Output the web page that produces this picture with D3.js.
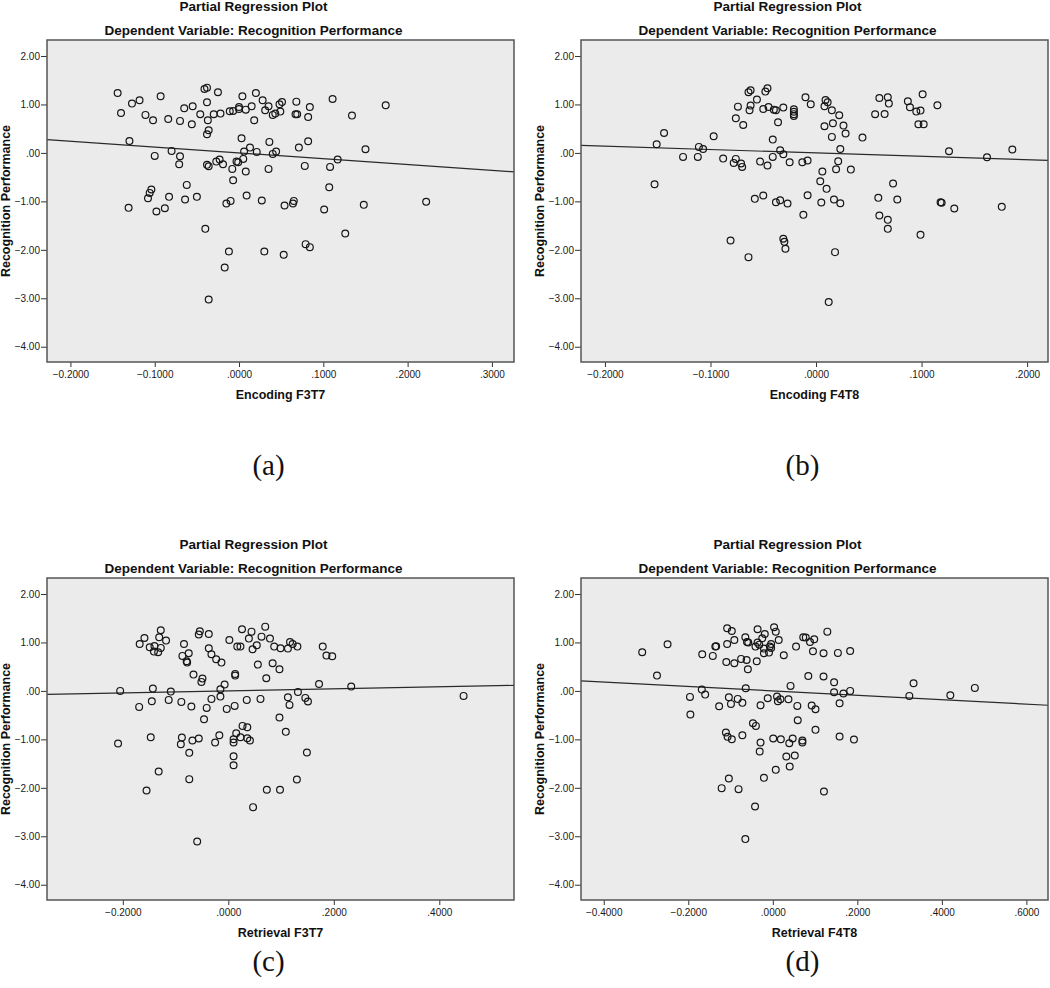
<!DOCTYPE html>
<html>
<head>
<meta charset="utf-8">
<script src="https://cdn.jsdelivr.net/npm/d3@7"></script>
<style>
body { margin: 0; background: #fff; }
svg text { font-family: Arial, "Liberation Sans", sans-serif; }
</style>
</head>
<body>
<svg id="chart" width="1050" height="988"></svg>
<script>
// partial residuals, [x, y]
var encF3T7 = [
  [-0.144,1.237],[-0.140,0.825],[-0.127,1.017],[-0.118,1.086],[-0.093,1.168],[-0.111,0.784],[-0.102,0.674],[-0.084,0.701],
  [-0.070,0.660],[-0.065,0.921],[-0.055,0.962],[-0.056,0.591],[-0.046,0.797],[-0.041,1.320],[-0.038,1.347],[-0.038,1.045],
  [-0.037,0.674],[-0.036,0.467],[-0.038,0.385],[-0.030,0.797],[-0.025,1.251],[-0.022,0.811],[-0.011,0.859],[-0.007,0.866],
  [0.000,0.948],[0.000,0.907],[0.004,1.168],[0.008,0.893],[0.015,0.962],[0.020,1.237],[0.018,0.674],[-0.130,0.247],
  [-0.100,-0.062],[-0.080,0.041],[-0.070,-0.069],[-0.071,-0.234],[-0.038,-0.247],[-0.036,-0.275],[-0.027,-0.179],[-0.023,-0.137],
  [-0.019,-0.234],[-0.008,-0.330],[-0.003,-0.179],[-0.001,-0.192],[0.005,-0.124],[0.003,0.302],[0.006,0.027],[0.013,0.110],
  [0.021,0.021],[0.008,-0.385],[-0.007,-0.564],[-0.062,-0.660],[-0.104,-0.756],[-0.106,-0.825],[-0.108,-0.935],[-0.083,-0.907],
  [-0.064,-0.962],[-0.050,-0.907],[-0.131,-1.134],[-0.098,-1.210],[-0.088,-1.141],[-0.015,-1.045],[-0.010,-0.990],[0.009,-0.880],
  [-0.040,-1.567],[-0.012,-2.034],[-0.017,-2.364],[-0.036,-3.024],
  [0.028,1.086],[0.031,0.880],[0.035,0.962],[0.040,0.784],[0.043,0.811],[0.049,0.852],[0.048,1.003],[0.051,1.052],
  [0.068,1.058],[0.067,0.797],[0.069,0.797],[0.082,0.742],[0.084,0.948],[0.111,1.113],[0.134,0.770],[0.174,0.983],
  [0.036,0.227],[0.040,-0.021],[0.044,0.027],[0.035,-0.330],[0.071,0.110],[0.082,0.241],[0.078,-0.268],[0.108,-0.289],
  [0.117,-0.137],[0.150,0.076],[0.107,-0.708],[0.027,-0.983],[0.054,-1.086],[0.064,-1.045],[0.065,-0.990],[0.101,-1.168],
  [0.148,-1.072],[0.222,-1.010],[0.126,-1.663],[0.030,-2.034],[0.053,-2.103],[0.079,-1.883],[0.084,-1.945]
];

var encF4T8 = [
  [-0.151,0.179],[-0.144,0.412],[-0.153,-0.646],[-0.126,-0.082],[-0.112,-0.082],[-0.111,0.124],[-0.107,0.082],[-0.097,0.344],
  [-0.088,-0.117],[-0.076,-0.124],[-0.078,-0.206],[-0.071,-0.220],[-0.070,-0.289],[-0.081,-1.808],[-0.064,-2.151],[-0.074,0.955],
  [-0.076,0.715],[-0.069,0.577],[-0.064,1.251],[-0.062,1.292],[-0.062,0.976],[-0.063,0.880],[-0.056,1.100],[-0.053,-0.179],
  [-0.050,0.907],[-0.048,1.265],[-0.046,1.333],[-0.045,0.948],[-0.040,0.893],[-0.038,0.880],[-0.031,0.935],[-0.036,0.632],
  [-0.041,0.275],[-0.034,0.055],[-0.031,-0.027],[-0.041,-0.082],[-0.046,-0.261],[-0.058,-0.948],[-0.050,-0.880],[-0.038,-1.017],
  [-0.034,-0.976],[-0.027,-1.045],[-0.031,-1.773],[-0.030,-1.835],[-0.029,-1.979],[-0.025,-0.192],
  [-0.010,1.148],[-0.005,1.003],[-0.021,0.900],[-0.021,0.850],[-0.021,0.800],[-0.021,0.760],[0.009,1.093],[0.011,1.045],
  [0.008,0.962],[0.015,0.880],[0.022,0.777],[0.008,0.550],[0.016,0.612],[0.026,0.564],[0.028,0.399],[0.015,0.330],
  [0.044,0.316],[0.023,0.082],[-0.013,-0.192],[-0.008,-0.158],[0.021,-0.172],[0.019,-0.337],[0.033,-0.344],[0.006,-0.385],
  [0.004,-0.584],[0.010,-0.742],[-0.008,-0.873],[0.005,-1.024],[0.017,-0.962],[0.023,-1.038],[-0.012,-1.278],[0.018,-2.048],
  [0.012,-3.079],[0.060,1.134],[0.068,1.148],[0.069,1.017],[0.056,0.797],[0.065,0.804],[0.087,1.065],[0.089,0.942],
  [0.095,0.852],[0.099,0.873],[0.101,1.210],[0.115,0.983],[0.097,0.591],[0.102,0.591],[0.126,0.034],[0.162,-0.089],
  [0.186,0.069],[0.073,-0.632],[0.059,-0.928],[0.077,-0.962],[0.060,-1.292],[0.068,-1.381],[0.068,-1.567],[0.099,-1.691],
  [0.118,-1.017],[0.119,-1.031],[0.131,-1.148],[0.176,-1.113]
];

var retF3T7 = [
  [-0.205,0.000],[-0.209,-1.086],[-0.169,-0.330],[-0.168,0.969],[-0.159,1.093],[-0.155,-2.055],[-0.147,-0.955],[-0.145,-0.213],
  [-0.143,0.048],[-0.149,0.900],[-0.141,0.811],[-0.140,0.928],[-0.133,0.797],[-0.131,1.107],[-0.128,1.251],[-0.128,0.887],
  [-0.118,1.038],[-0.132,-1.663],[-0.113,-0.186],[-0.109,-0.014],[-0.089,-0.227],[-0.088,-0.962],[-0.090,-1.100],[-0.087,0.722],
  [-0.084,0.969],[-0.079,0.612],[-0.078,0.584],[-0.075,0.777],[-0.074,-1.278],[-0.074,-1.821],[-0.070,-0.323],[-0.068,-1.024],
  [-0.066,0.337],[-0.056,-0.983],[-0.059,-3.107],[-0.056,1.162],[-0.054,1.230],[-0.051,0.186],[-0.049,0.254],[-0.046,-0.584],
  [-0.041,-0.351],[-0.037,1.175],[-0.037,0.880],[-0.032,0.756],[-0.032,-0.165],[-0.025,-1.065],[-0.023,0.653],[-0.017,-0.914],
  [-0.015,-0.117],[-0.015,0.034],[-0.013,0.584],[-0.007,0.131],[-0.003,-0.371],[0.002,1.052],[0.010,-0.997],[0.010,-1.065],
  [0.010,-1.347],[0.010,-1.533],[0.012,-0.309],[0.013,0.351],[0.013,0.316],[0.015,-0.873],[0.017,0.914],[0.023,0.914],
  [0.023,-0.955],[0.026,1.271],[0.027,-0.722],[0.035,-0.186],[0.036,-0.749],[0.036,-0.976],[0.039,1.079],[0.041,-1.024],
  [0.044,1.223],[0.046,0.859],[0.047,-2.399],[0.054,0.942],[0.056,0.543],
  [0.070,1.326],[0.063,1.120],[0.079,1.079],[0.087,0.914],[0.099,0.880],[0.113,0.873],[0.117,1.010],[0.122,0.969],
  [0.131,0.914],[0.072,0.261],[0.084,0.570],[0.097,0.447],[0.061,-0.165],[0.113,-0.131],[0.116,-0.289],[0.132,-0.021],
  [0.146,-0.144],[0.151,-0.220],[0.097,-0.550],[0.109,-0.845],[0.149,-1.271],[0.130,-1.828],[0.073,-2.041],[0.098,-2.041],
  [0.172,0.144],[0.179,0.914],[0.186,0.729],[0.197,0.715],[0.233,0.089],[0.446,-0.103]
];

var retF4T8 = [
  [-0.309,0.797],[-0.274,0.316],[-0.249,0.962],[-0.196,-0.124],[-0.195,-0.488],[-0.168,0.027],[-0.160,-0.076],[-0.167,0.756],
  [-0.142,0.722],[-0.136,0.914],[-0.134,0.921],[-0.127,-0.316],[-0.121,-2.007],[-0.110,0.598],[-0.108,0.969],[-0.108,1.292],
  [-0.111,-0.859],[-0.107,-0.948],[-0.104,-0.131],[-0.104,-1.808],[-0.099,-0.268],[-0.097,-0.997],[-0.097,1.237],[-0.091,1.052],
  [-0.091,0.570],[-0.083,-0.165],[-0.081,-2.027],[-0.075,0.660],[-0.072,-0.914],[-0.072,-0.247],[-0.065,1.107],[-0.064,0.055],
  [-0.062,0.639],[-0.061,1.010],[-0.058,0.997],[-0.059,0.447],[-0.065,-3.058],[-0.047,-0.667],[-0.042,-2.385],[-0.040,-0.722],
  [-0.041,0.914],[-0.036,1.271],[-0.038,0.612],[-0.036,0.997],[-0.032,0.955],[-0.029,-0.296],[-0.029,-1.065],[-0.031,-1.251],
  [-0.025,1.086],[-0.021,0.873],[-0.021,0.777],[-0.019,1.175],[-0.021,-1.794],[-0.012,-0.151],[-0.009,0.790],[-0.007,0.914],
  [-0.004,0.887],[-0.004,0.969],[0.001,-0.983],[0.003,1.313],[0.007,1.223],[0.007,-1.629],[0.010,-0.117],[0.012,-0.213],
  [0.014,1.052],[0.018,-0.172],[0.019,-0.997],[0.026,0.735],[0.032,-1.354],[0.037,-0.172],[0.039,-1.079],[0.042,0.103],
  [0.040,-1.560],
  [0.055,0.914],[0.072,1.107],[0.078,1.100],[0.088,1.010],[0.098,1.065],[0.129,1.223],[0.095,0.818],[0.120,0.777],
  [0.154,0.784],[0.183,0.825],[0.084,0.309],[0.120,0.296],[0.145,0.179],[0.145,-0.027],[0.167,-0.055],[0.183,0.000],
  [0.158,-0.254],[0.058,-0.309],[0.092,-0.302],[0.101,-0.378],[0.059,-0.605],[0.101,-0.804],[0.047,-0.983],[0.070,-1.024],
  [0.070,-1.065],[0.158,-0.942],[0.192,-1.003],[0.052,-1.333],[0.121,-2.076],[0.323,-0.103],[0.333,0.158],[0.420,-0.089],
  [0.478,0.062]
];

// fitted slopes of the partial regression lines (through the origin)
var slopes = [-1.2, -0.7, 0.21, -0.455];

// axis ticks and ranges
var yTicks = [2, 1, 0, -1, -2, -3, -4];
var yDomain = [-4.315, 2.33];
var xTicksA = [-0.2, -0.1, 0, 0.1, 0.2, 0.3];
var xTicksB = [-0.2, -0.1, 0, 0.1, 0.2];
var xTicksC = [-0.2, 0, 0.2, 0.4];
var xTicksD = [-0.4, -0.2, 0, 0.2, 0.4, 0.6];
var xDomainA = [-0.2278, 0.3262];
var xDomainB = [-0.2227, 0.2198];
var xDomainC = [-0.3437, 0.5416];
var xDomainD = [-0.4538, 0.6511];

var svg = d3.select("#chart");
var plotW = 467, plotH = 322;

var panels = [
  { pts: encF3T7, xLabel: "Encoding F3T7",  ticks: xTicksA, domain: xDomainA, slope: slopes[0], left: 47,  top: 40,  cap: "(a)", capY: 475 },
  { pts: encF4T8, xLabel: "Encoding F4T8",  ticks: xTicksB, domain: xDomainB, slope: slopes[1], left: 581, top: 40,  cap: "(b)", capY: 475 },
  { pts: retF3T7, xLabel: "Retrieval F3T7", ticks: xTicksC, domain: xDomainC, slope: slopes[2], left: 47,  top: 578, cap: "(c)", capY: 971 },
  { pts: retF4T8, xLabel: "Retrieval F4T8", ticks: xTicksD, domain: xDomainD, slope: slopes[3], left: 581, top: 578, cap: "(d)", capY: 971 }
];

function fmtY(d) {
  return d === 0 ? ".00" : d3.format(".2f")(d);
}
function fmtX(d) {
  return d3.format(".4f")(d).replace(/^(-?)0\./, "$1.");
}

function styleAxis(sel) {
  sel.select(".domain").remove();
  sel.selectAll(".tick line").attr("stroke", "#333");
  sel.selectAll(".tick text").attr("fill", "#1a1a1a").style("font-size", "10px");
}

panels.forEach(function(p) {
  var g = svg.append("g").attr("transform", "translate(" + p.left + "," + p.top + ")");
  var x = d3.scaleLinear().domain(p.domain).range([0, plotW]);
  var y = d3.scaleLinear().domain(yDomain).range([plotH, 0]);

  //plot background
  g.append("rect").attr("width", plotW).attr("height", plotH).attr("fill", "#ebebeb");

  //axes
  g.append("g")
    .call(d3.axisLeft(y).tickValues(yTicks).tickSize(6).tickPadding(1).tickFormat(fmtY))
    .call(styleAxis);
  g.append("g")
    .attr("transform", "translate(0," + plotH + ")")
    .call(d3.axisBottom(x).tickValues(p.ticks).tickSize(5).tickPadding(4).tickFormat(fmtX))
    .call(styleAxis);

  //fit line
  var x0 = p.domain[0], x1 = p.domain[1];
  g.append("line")
    .attr("x1", x(x0)).attr("y1", y(p.slope * x0))
    .attr("x2", x(x1)).attr("y2", y(p.slope * x1))
    .attr("stroke", "#2a2a2a").attr("stroke-width", 1.2);

  //points
  g.selectAll("circle.pt")
    .data(p.pts)
    .enter()
    .append("circle")
    .attr("class", "pt")
    .attr("cx", function(d) { return x(d[0]); })
    .attr("cy", function(d) { return y(d[1]); })
    .attr("r", 3.4)
    .attr("fill", "none")
    .attr("stroke", "#161616")
    .attr("stroke-width", 1.2);

  //frame
  g.append("rect").attr("width", plotW).attr("height", plotH)
    .attr("fill", "none").attr("stroke", "#555").attr("stroke-width", 1.5);

  //titles
  var tx = plotW / 2 - 27;
  g.append("text").attr("x", tx).attr("y", -29.5).attr("text-anchor", "middle")
    .style("font-size", "13.5px").style("font-weight", "bold").attr("fill", "#111")
    .text("Partial Regression Plot");
  g.append("text").attr("x", tx).attr("y", -4.8).attr("text-anchor", "middle")
    .style("font-size", "13.5px").style("font-weight", "bold").attr("fill", "#111")
    .text("Dependent Variable: Recognition Performance");

  //axis labels
  g.append("text").attr("x", plotW / 2).attr("y", plotH + 36.5).attr("text-anchor", "middle")
    .style("font-size", "12.5px").style("font-weight", "bold").attr("fill", "#111")
    .text(p.xLabel);
  g.append("text")
    .attr("transform", "translate(-37.5," + (plotH / 2) + ") rotate(-90)")
    .attr("text-anchor", "middle")
    .style("font-size", "12.5px").style("font-weight", "bold").attr("fill", "#111")
    .text("Recognition Performance");

  //caption
  g.append("text").attr("x", plotW / 2 - 12).attr("y", p.capY - p.top)
    .attr("text-anchor", "middle")
    .style("font-family", "'Liberation Serif', 'Times New Roman', serif")
    .style("font-size", "29px").attr("fill", "#111")
    .text(p.cap);
});
</script>
</body>
</html>
